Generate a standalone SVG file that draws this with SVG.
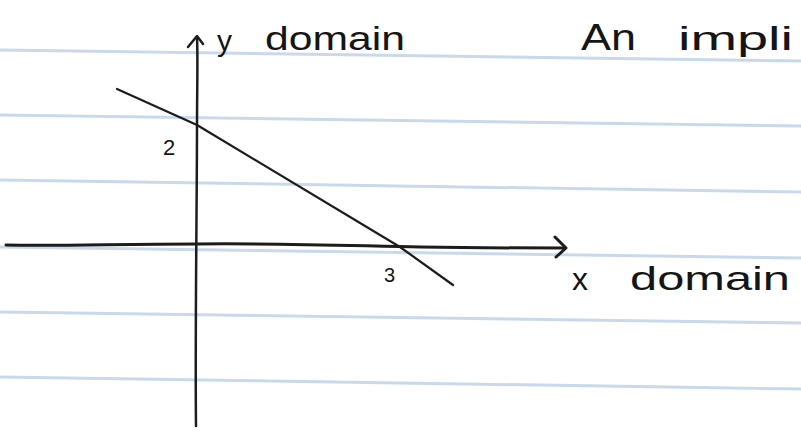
<svg xmlns="http://www.w3.org/2000/svg" width="801" height="433" viewBox="0 0 801 433">
<style>
.rule{stroke:#c9d9ec;stroke-width:3;fill:none}
.ink{stroke:#1c1c1c;fill:none;stroke-linecap:round;stroke-linejoin:round}
.hand{font-family:"Liberation Sans",Arial,sans-serif;fill:#151515}
</style>
<rect width="801" height="433" fill="#ffffff"/>
<g id="paper-rules">
<line class="rule" x1="0" y1="50" x2="801" y2="61"/>
<line class="rule" x1="0" y1="115" x2="801" y2="126"/>
<line class="rule" x1="0" y1="180" x2="801" y2="192"/>
<line class="rule" x1="0" y1="247" x2="801" y2="258"/>
<line class="rule" x1="0" y1="312" x2="801" y2="323"/>
<line class="rule" x1="0" y1="377" x2="801" y2="389"/>
</g>
<g id="y-axis">
<path class="ink" stroke-width="2.5" d="M196 426 C195 330 197 200 197 125 C197 90 198 60 197 37"/>
<path class="ink" stroke-width="2.5" d="M188 47 L197 36 L203 44"/>
</g>
<g id="x-axis">
<path class="ink" stroke-width="3" d="M6 245 C60 246 120 244 196 244 C280 243 360 246 420 247 C480 248 530 248 565 248"/>
<path class="ink" stroke-width="3" d="M555 237 L566 248 L556 257"/>
</g>
<g id="line">
<path class="ink" stroke-width="2.2" d="M117 89 L197 125 L400 247 L453 285"/>
</g>
<g id="labels">
<text class="hand" x="217" y="51" font-size="30">y</text>
<text class="hand" x="265" y="50" font-size="34" textLength="140" lengthAdjust="spacingAndGlyphs">domain</text>
<text class="hand" x="163" y="155" font-size="22">2</text>
<text class="hand" x="384" y="282" font-size="20">3</text>
<text class="hand" x="572" y="290" font-size="32">x</text>
<text class="hand" x="630" y="290" font-size="34" textLength="160" lengthAdjust="spacingAndGlyphs">domain</text>
<text class="hand" x="581" y="50" font-size="36" textLength="55" lengthAdjust="spacingAndGlyphs">An</text>
<text class="hand" x="678" y="50" font-size="34" textLength="115" lengthAdjust="spacingAndGlyphs">impli</text>
</g>
</svg>
